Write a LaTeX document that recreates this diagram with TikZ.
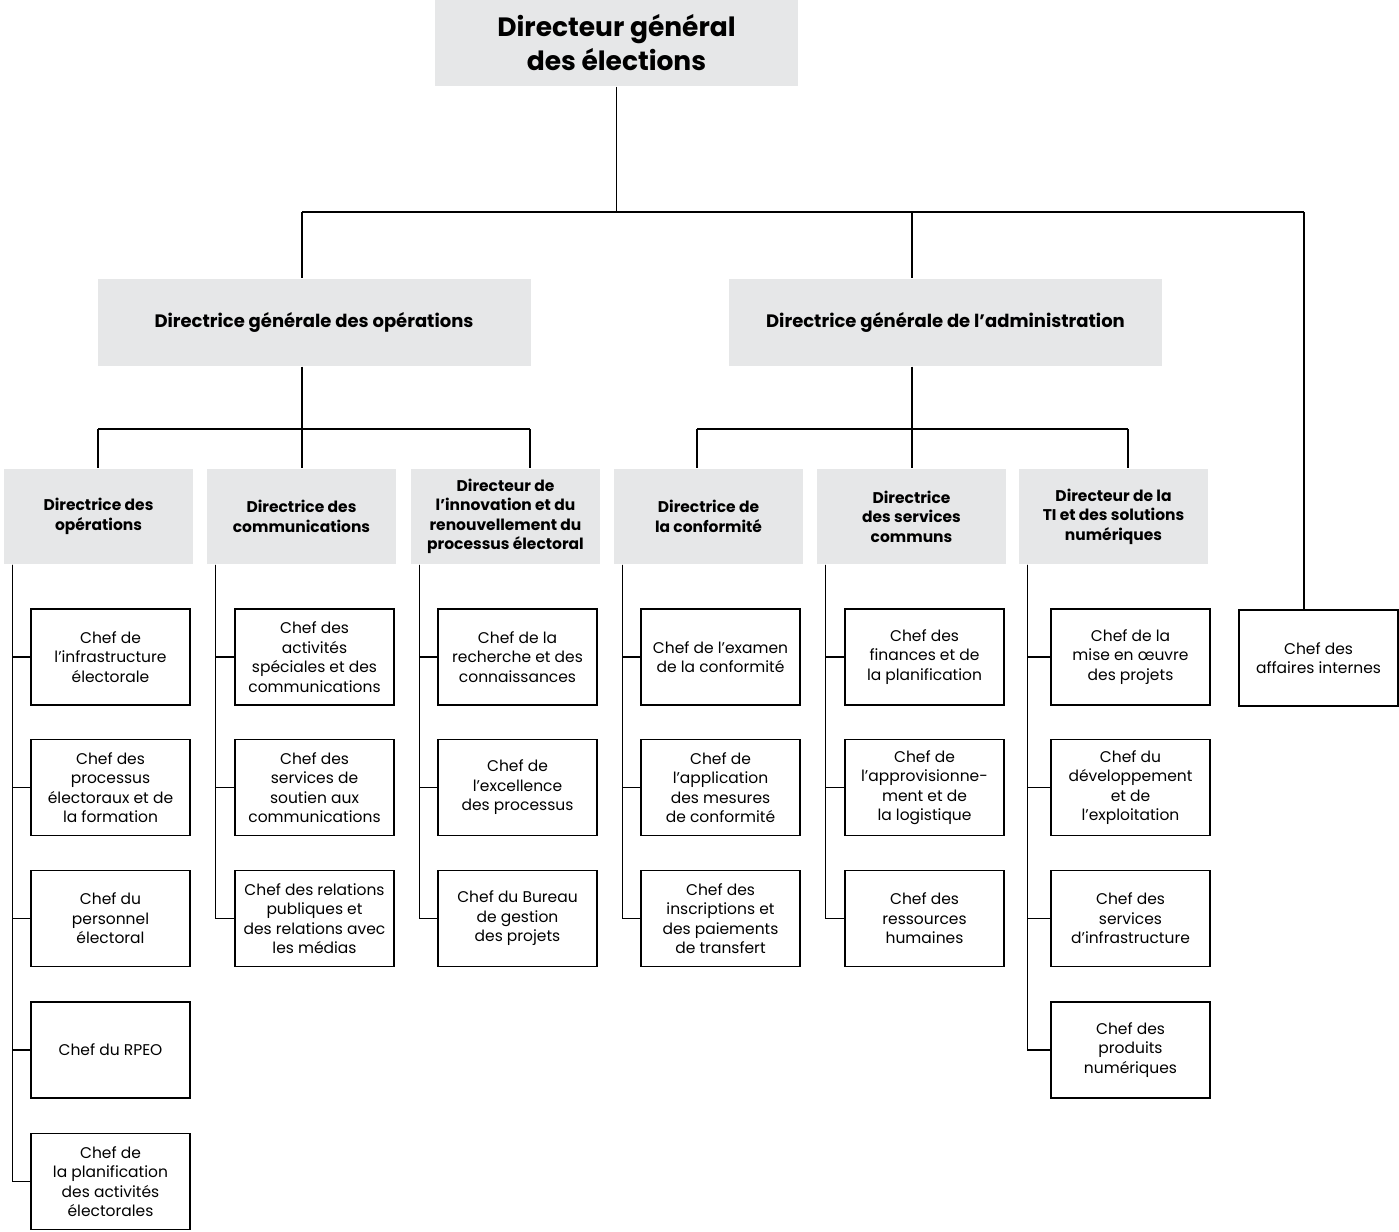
\documentclass[tikz,border=0pt]{standalone}
\usepackage{fontspec}
\setmainfont{Poppins}
\definecolor{boxgray}{HTML}{E6E7E8}
\begin{document}
\begin{tikzpicture}[x=1pt,y=-1pt,line width=1.2pt,
  every node/.style={inner sep=0pt,align=center},
  topbox/.style={fill=boxgray,minimum width=363pt,minimum height=86pt,font=\bfseries\fontsize{26.5}{34}\selectfont},
  headbox/.style={fill=boxgray,minimum width=433pt,minimum height=87pt,font=\bfseries\fontsize{18}{20}\selectfont},
  dirbox/.style={fill=boxgray,minimum width=189pt,minimum height=95pt,font=\bfseries\fontsize{15.5}{19.5}\selectfont},
  chefbox/.style={draw,minimum width=159pt,minimum height=96pt,font=\fontsize{15.5}{19.5}\selectfont}]
\useasboundingbox (0,0) rectangle (1399,1231);
% top levels
\node[topbox] (dge) at (616.5,43) {Directeur général\\des élections};
\node[headbox] (dgo) at (314,322.5) {Directrice générale des opérations};
\node[headbox] (dga) at (945.5,322.5) {Directrice générale de l’administration};
% directions
\node[dirbox] (dop) at (98.5,516.5) {Directrice des\\opérations};
\node[dirbox] (dco) at (301.5,516.5) {Directrice des\\communications};
\node[dirbox] (din) at (505.5,516.5) {Directeur de\\l’innovation et du\\renouvellement du\\processus électoral};
\node[dirbox] (dcf) at (708.5,516.5) {Directrice de\\la conformité};
\node[dirbox] (dsc) at (911.5,516.5) {Directrice\\des services\\communs};
\node[dirbox] (dti) at (1113.5,516.5) {Directeur de la\\TI et des solutions\\numériques};
% chefs
\node[chefbox] (op1) at (110.5,657) {Chef de\\l’infrastructure\\électorale};
\node[chefbox] (op2) at (110.5,787.5) {Chef des\\processus\\électoraux et de\\la formation};
\node[chefbox] (op3) at (110.5,918.5) {Chef du\\personnel\\électoral};
\node[chefbox] (op4) at (110.5,1050) {Chef du RPEO};
\node[chefbox] (op5) at (110.5,1181.5) {Chef de\\la planification\\des activités\\électorales};
\node[chefbox] (co1) at (314.5,657) {Chef des\\activités\\spéciales et des\\communications};
\node[chefbox] (co2) at (314.5,787.5) {Chef des\\services de\\soutien aux\\communications};
\node[chefbox] (co3) at (314.5,918.5) {Chef des relations\\publiques et\\des relations avec\\les médias};
\node[chefbox] (in1) at (517.5,657) {Chef de la\\recherche et des\\connaissances};
\node[chefbox] (in2) at (517.5,787.5) {Chef de\\l’excellence\\des processus};
\node[chefbox] (in3) at (517.5,918.5) {Chef du Bureau\\de gestion\\des projets};
\node[chefbox] (cf1) at (720.5,657) {Chef de l’examen\\de la conformité};
\node[chefbox] (cf2) at (720.5,787.5) {Chef de\\l’application\\des mesures\\de conformité};
\node[chefbox] (cf3) at (720.5,918.5) {Chef des\\inscriptions et\\des paiements\\de transfert};
\node[chefbox] (sc1) at (924.5,657) {Chef des\\finances et de\\la planification};
\node[chefbox] (sc2) at (924.5,787.5) {Chef de\\l’approvisionne-\\ment et de\\la logistique};
\node[chefbox] (sc3) at (924.5,918.5) {Chef des\\ressources\\humaines};
\node[chefbox] (ti1) at (1130.5,657) {Chef de la\\mise en œuvre\\des projets};
\node[chefbox] (ti2) at (1130.5,787.5) {Chef du\\développement\\et de\\l’exploitation};
\node[chefbox] (ti3) at (1130.5,918.5) {Chef des\\services\\d’infrastructure};
\node[chefbox] (ti4) at (1130.5,1050) {Chef des\\produits\\numériques};
\node[chefbox] (cai) at (1318.5,658) {Chef des\\affaires internes};
% connectors
\coordinate (j1) at (302,212);
\coordinate (j2) at (912,212);
\coordinate (j3) at (1304,212);
\coordinate (o1) at (98,429);
\coordinate (o3) at (530,429);
\coordinate (a1) at (697,429);
\coordinate (a3) at (1128,429);
\draw (dge.south) -- (dge.south |- j1);
\draw (j1) -- (j3);
\draw (j1) -- (j1 |- dgo.north);
\draw (j2) -- (j2 |- dga.north);
\draw (j3) -- (j3 |- cai.north);
\draw (j1 |- dgo.south) -- (j1 |- o1);
\draw (j2 |- dga.south) -- (j2 |- a1);
\draw (o1) -- (o3);
\draw (a1) -- (a3);
\draw (o1) -- (o1 |- dop.north);
\draw (j1 |- o1) -- (j1 |- dco.north);
\draw (o3) -- (o3 |- din.north);
\draw (a1) -- (a1 |- dcf.north);
\draw (j2 |- a1) -- (j2 |- dsc.north);
\draw (a3) -- (a3 |- dti.north);
\foreach \d/\c in {dop/op1,dop/op2,dop/op3,dop/op4,dop/op5,dco/co1,dco/co2,dco/co3,
                   din/in1,din/in2,din/in3,dcf/cf1,dcf/cf2,dcf/cf3,dsc/sc1,dsc/sc2,dsc/sc3,
                   dti/ti1,dti/ti2,dti/ti3,dti/ti4}
  \draw ([xshift=9pt]\d.south west) |- (\c.west);
\end{tikzpicture}
\end{document}
